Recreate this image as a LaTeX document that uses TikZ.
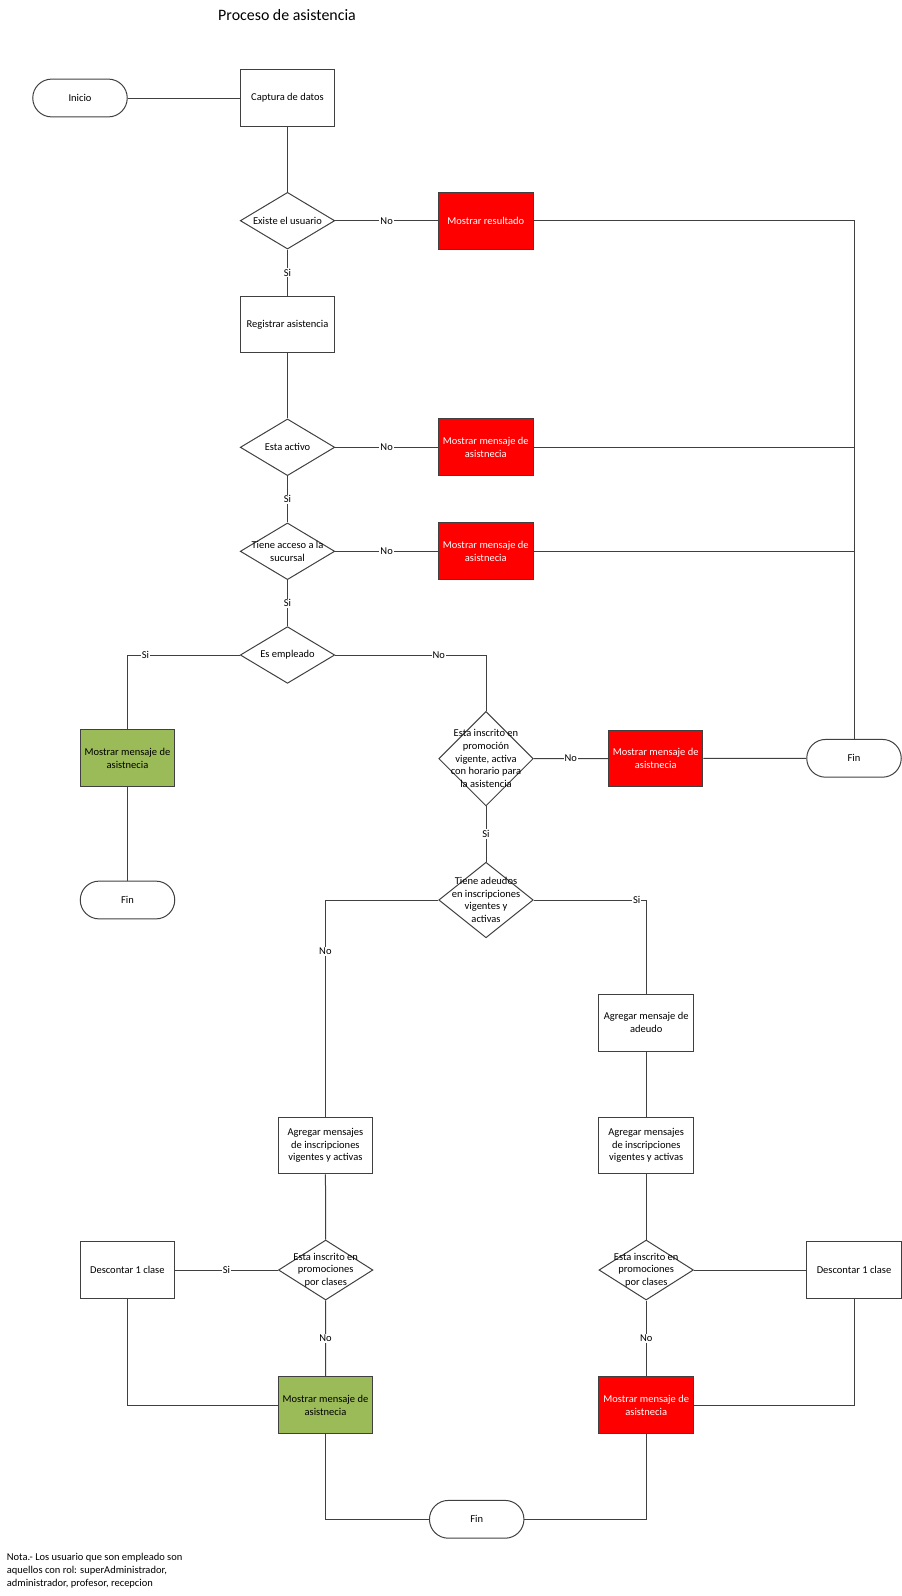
\documentclass[tikz,border=0pt]{standalone}
\usepackage{fontspec}
\setmainfont{Carlito}
\usetikzlibrary{shapes.geometric}
\definecolor{okgreen}{HTML}{9BBB59}
\def\txt{\fontsize{10.5}{12.7}\selectfont}
\tikzset{
	base/.style={draw=black!75, line width=1pt, font=\txt, align=center, inner sep=2pt},
	proc/.style={base, rectangle, minimum width=94.5pt, minimum height=56.7pt},
	alto/.style={proc, fill=red, text=white},
	okbox/.style={proc, fill=okgreen},
	term/.style={base, rectangle, rounded corners=18.9pt, minimum width=94.5pt, minimum height=37.8pt},
	dec/.style={base, diamond, minimum width=94.5pt, minimum height=#1, inner sep=0pt},
	dec/.default=56.7pt,
	dtext/.style={font=\txt, align=center, inner sep=0pt},
	lbl/.style={fill=white, inner sep=1pt, font=\txt},
	line/.style={draw=black!75, line width=1pt}
}

\begin{document}
\begin{tikzpicture}[x=1pt, y=-1pt]
	%%%%% START %%%%%
	\useasboundingbox (0, 0) rectangle (902, 1596);
	
	\node[font=\fontsize{15.9}{18}\selectfont] (titulo) at (287, 15) {Proceso de asistencia};
	
	\node[term] (ini) at (80, 98) {Inicio};
	\node[proc] (cap) at (287.5, 98) {Captura de datos};
	\node[dec, label={[dtext]center:Existe el usuario}] (exi) at (287.5, 220.7) {};
	\node[alto] (res) at (485.8, 220.7) {Mostrar resultado};
	\node[proc] (reg) at (287.5, 324.5) {Registrar asistencia};
	
	\node[dec, label={[dtext]center:Esta activo}] (act) at (287.5, 447.3) {};
	\node[alto] (msg1) at (485.8, 447.3) {Mostrar mensaje de\\asistnecia};
	\node[dec, label={[dtext]center:Tiene acceso a la\\sucursal}] (acc) at (287.5, 551.3) {};
	\node[alto] (msg2) at (485.8, 551.3) {Mostrar mensaje de\\asistnecia};
	\node[dec, label={[dtext]center:Es empleado}] (emp) at (287.5, 655) {};
	
	\node[okbox] (okemp) at (127.5, 758.3) {Mostrar mensaje de\\asistnecia};
	\node[term] (fin1) at (127.5, 900) {Fin};
	
	\node[dec=94.5pt, label={[dtext]center:Esta inscrito en\\promoción\\vigente, activa\\con horario para\\la asistencia}] (ins) at (486, 758.7) {};
	\node[alto] (msg3) at (655.7, 758.5) {Mostrar mensaje de\\asistnecia};
	\node[term] (fin2) at (854, 758.3) {Fin};
	
	\node[dec=75.6pt, label={[dtext]center:Tiene adeudos\\en inscripciones\\vigentes y\\activas}] (ade) at (486, 900) {};
	\node[proc] (addeu) at (646.2, 1022.7) {Agregar mensaje de\\adeudo};
	\node[proc] (agizq) at (325.4, 1145.5) {Agregar mensajes\\de inscripciones\\vigentes y activas};
	\node[proc] (agder) at (646.2, 1145.5) {Agregar mensajes\\de inscripciones\\vigentes y activas};
	
	\node[dec=60pt, label={[dtext]center:Esta inscrito en\\promociones\\por clases}] (pizq) at (325.7, 1270) {};
	\node[dec=60pt, label={[dtext]center:Esta inscrito en\\promociones\\por clases}] (pder) at (646.2, 1270) {};
	\node[proc] (desizq) at (127.3, 1270) {Descontar 1 clase};
	\node[proc] (desder) at (854, 1270) {Descontar 1 clase};
	
	\node[okbox] (okizq) at (325.5, 1405.3) {Mostrar mensaje de\\asistnecia};
	\node[alto] (msg4) at (646.2, 1405.3) {Mostrar mensaje de\\asistnecia};
	\node[term] (fin3) at (476.7, 1519.3) {Fin};
	
	\node[font=\txt, align=left, anchor=west, inner sep=0pt] (nota) at (6.7, 1570.7) {Nota.- Los usuario que son empleado son\\aquellos con rol: superAdministrador,\\administrador, profesor, recepcion};
	
	% conectores
	\draw[line] (ini) -- (cap);
	\draw[line] (cap) -- (exi);
	\draw[line] (exi) -- node[lbl] {No} (res);
	\draw[line] (exi) -- node[lbl] {Si} (reg);
	\draw[line] (reg) -- (act);
	\draw[line] (act) -- node[lbl] {No} (msg1);
	\draw[line] (act) -- node[lbl] {Si} (acc);
	\draw[line] (acc) -- node[lbl] {No} (msg2);
	\draw[line] (acc) -- node[lbl] {Si} (emp);
	
	\draw[line] (res) -| (fin2);
	\draw[line] (msg1) -- (msg1 -| fin2);
	\draw[line] (msg2) -- (msg2 -| fin2);
	
	\draw[line] (emp) -| node[lbl, pos=0.42] {Si} (okemp);
	\draw[line] (okemp) -- (fin1);
	\draw[line] (emp) -| node[lbl, pos=0.343] {No} (ins);
	\draw[line] (ins) -- node[lbl] {No} (msg3);
	\draw[line] (msg3) -- (fin2);
	\draw[line] (ins) -- node[lbl] {Si} (ade);
	
	\draw[line] (ade) -| node[lbl, pos=0.619] {No} (agizq);
	\draw[line] (ade) -| node[lbl, pos=0.458] {Si} (addeu);
	\draw[line] (addeu) -- (agder);
	\draw[line] (agizq) -- (pizq);
	\draw[line] (agder) -- (pder);
	
	\draw[line] (pizq) -- node[lbl] {Si} (desizq);
	\draw[line] (pder) -- (desder);
	\draw[line] (pizq) -- node[lbl] {No} (okizq);
	\draw[line] (pder) -- node[lbl] {No} (msg4);
	\draw[line] (desizq) |- (okizq);
	\draw[line] (desder) |- (msg4);
	\draw[line] (okizq) |- (fin3);
	\draw[line] (msg4) |- (fin3);
	%%%%% END %%%%%
\end{tikzpicture}
\end{document}
